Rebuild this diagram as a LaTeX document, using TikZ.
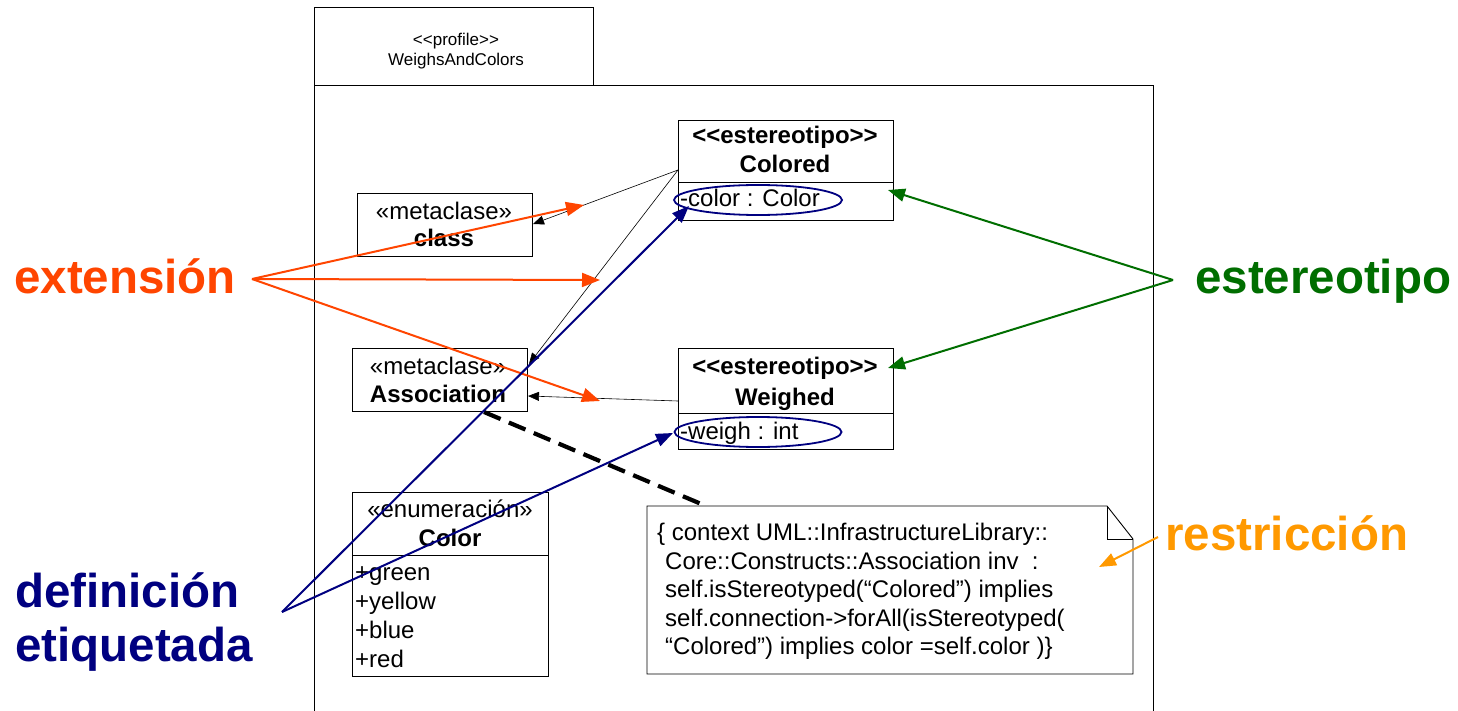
\documentclass[tikz,border=0pt]{standalone}
\usepackage{fontspec}
\setmainfont{Liberation Sans}
\usetikzlibrary{arrows.meta,shapes.geometric}
\definecolor{extc}{RGB}{255,69,0}
\definecolor{estc}{RGB}{0,110,0}
\definecolor{defc}{RGB}{0,0,128}
\definecolor{resc}{RGB}{255,153,0}
\begin{document}
\begin{tikzpicture}[x=1pt,y=-1pt,
  box/.style={draw, line width=0.9pt, anchor=north west, inner sep=0pt, outer sep=0pt},
  txt/.style={font=\fontsize{24}{28.5}\selectfont, inner sep=0pt, anchor=base},
  txtb/.style={font=\fontsize{24}{28.5}\selectfont\bfseries, inner sep=0pt, anchor=base},
  txtl/.style={font=\fontsize{24}{28.5}\selectfont, inner sep=0pt, anchor=base west},
  small/.style={font=\fontsize{17}{20}\selectfont, inner sep=0pt, anchor=base},
  big/.style={font=\fontsize{47.5}{50}\selectfont\bfseries, inner sep=0pt, anchor=base west},
  thin/.style={draw=black, line width=0.6pt, -{Triangle[length=11pt,width=9pt]}},
  extarrow/.style={draw=extc, line width=2pt, -{Triangle[length=18pt,width=14pt]}, extc},
  estarrow/.style={draw=estc, line width=2pt, -{Triangle[length=17pt,width=13pt]}, estc},
  defarrow/.style={draw=defc, line width=2pt, -{Triangle[length=17pt,width=13pt]}, defc},
  resarrow/.style={draw=resc, line width=2pt, -{Triangle[length=17pt,width=13pt]}, resc},
  oval/.style={draw=defc, line width=1.8pt, ellipse, inner sep=0pt}
]
\useasboundingbox[fill=white] (0,0) rectangle (1458,711);

% package
\node[box, minimum width=279, minimum height=78] (tab) at (314,7) {};
\node[box, minimum width=839, minimum height=640] (pkg) at (314,85) {};
\node[small] (tabt1) at (456,46) {<\kern0pt<profile>\kern0pt>};
\node[small] (tabt2) at (456,66) {WeighsAndColors};

% Colored stereotype
\node[box, minimum width=215, minimum height=100] (colored) at (678,120) {};
\draw[line width=0.9pt] (678,182) -- (893,182);
\node[txtb] (colst) at (785,144) {<\kern0pt<estereotipo>\kern0pt>};
\node[txtb] (colnm) at (785,173) {Colored};
\node[txtl] (colat) at (680,207) {-color : Color};
\node[oval, minimum width=168, minimum height=30] (colov) at (758,200) {};

% Weighed stereotype
\node[box, minimum width=215, minimum height=101] (weighed) at (678,348) {};
\draw[line width=0.9pt] (678,413) -- (893,413);
\node[txtb] (wst) at (785,374) {<\kern0pt<estereotipo>\kern0pt>};
\node[txtb] (wnm) at (785,405) {Weighed};
\node[txtl] (wat) at (680,439) {-weigh : int};
\node[oval, minimum width=167, minimum height=30] (wov) at (758,432) {};

% metaclass class
\node[box, minimum width=175, minimum height=63] (classmc) at (357,193) {};
\node[txt] (clst) at (444,220) {«metaclase»};
\node[txtb] (clnm) at (444,247) {class};

% metaclass Association
\node[box, minimum width=175, minimum height=63] (assoc) at (352,348) {};
\node[txt] (asst) at (438,374) {«metaclase»};
\node[txtb] (asnm) at (438,402) {Association};

% enumeration Color
\node[box, minimum width=196, minimum height=184] (colorenum) at (352,492) {};
\draw[line width=0.9pt] (352,555) -- (548,555);
\node[txt] (enst) at (450,517) {«enumeración»};
\node[txtb] (ennm) at (450,546) {Color};
\node[txtl] (e1) at (355,580) {+green};
\node[txtl] (e2) at (355,609) {+yellow};
\node[txtl] (e3) at (355,638) {+blue};
\node[txtl] (e4) at (355,667) {+red};

% note
\draw[line width=0.9pt, fill=white] (647,506) -- (1107,506) -- (1133,539) -- (1133,674) -- (647,674) -- cycle;
\draw[line width=0.7pt] (1107,506) -- (1107,539) -- (1133,539);
\coordinate (notetop) at (706,506);
\node[txtl] (n1) at (657,540) {\{ context UML::InfrastructureLibrary::};
\node[txtl] (n2) at (665,569) {Core::Constructs::Association inv\ \ :};
\node[txtl] (n3) at (665,597) {self.isStereotyped(“Colored”) implies};
\node[txtl] (n4) at (665,626) {self.connection->forAll(isStereotyped(};
\node[txtl] (n5) at (665,654) {“Colored”) implies color =self.color )\}};

% UML extension connectors (thin black)
\coordinate (colL) at (678,170);
\coordinate (wL) at (678,401);
\coordinate (classR) at (533,224);
\coordinate (assocTR) at (529,364);
\coordinate (assocR) at (528,396);
\draw[thin] (colL) -- (classR);
\draw[thin] (colL) -- (assocTR);
\draw[draw=black!70, line width=0.6pt, -{Triangle[length=11pt,width=9pt]}, black] (wL) -- (assocR);

% dashed note anchor
\coordinate (assocB) at (484,412);
\draw[line width=4.2pt, dash pattern=on 18pt off 9pt] (assocB) -- (notetop);

% big labels
\node[big, text=extc] (lext) at (14,294) {extensión};
\node[big, text=estc] (lest) at (1195,293) {estereotipo};
\node[big, text=defc] (ldef1) at (15,607) {definición};
\node[big, text=defc] (ldef2) at (15,661) {etiquetada};
\node[big, text=resc] (lres) at (1165,550) {restricción};

% label connectors
\coordinate (extv) at (252,279);
\coordinate (ext1) at (584,205);
\coordinate (ext2) at (600,280);
\coordinate (ext3) at (600,401);
\draw[extarrow] (extv) -- (ext1);
\draw[extarrow] (extv) -- (ext2);
\draw[extarrow] (extv) -- (ext3);

\coordinate (estv) at (1173,280);
\coordinate (est1) at (888,190);
\coordinate (est2) at (888,368);
\draw[estarrow] (estv) -- (est1);
\draw[estarrow] (estv) -- (est2);

\coordinate (defv) at (282,612);
\coordinate (def1) at (689,206);
\coordinate (def2) at (673,433);
\draw[defarrow] (defv) -- (def1);
\draw[defarrow] (defv) -- (def2);

\coordinate (resv) at (1158,537);
\coordinate (res1) at (1099,567);
\draw[resarrow] (resv) -- (res1);
\end{tikzpicture}
\end{document}
